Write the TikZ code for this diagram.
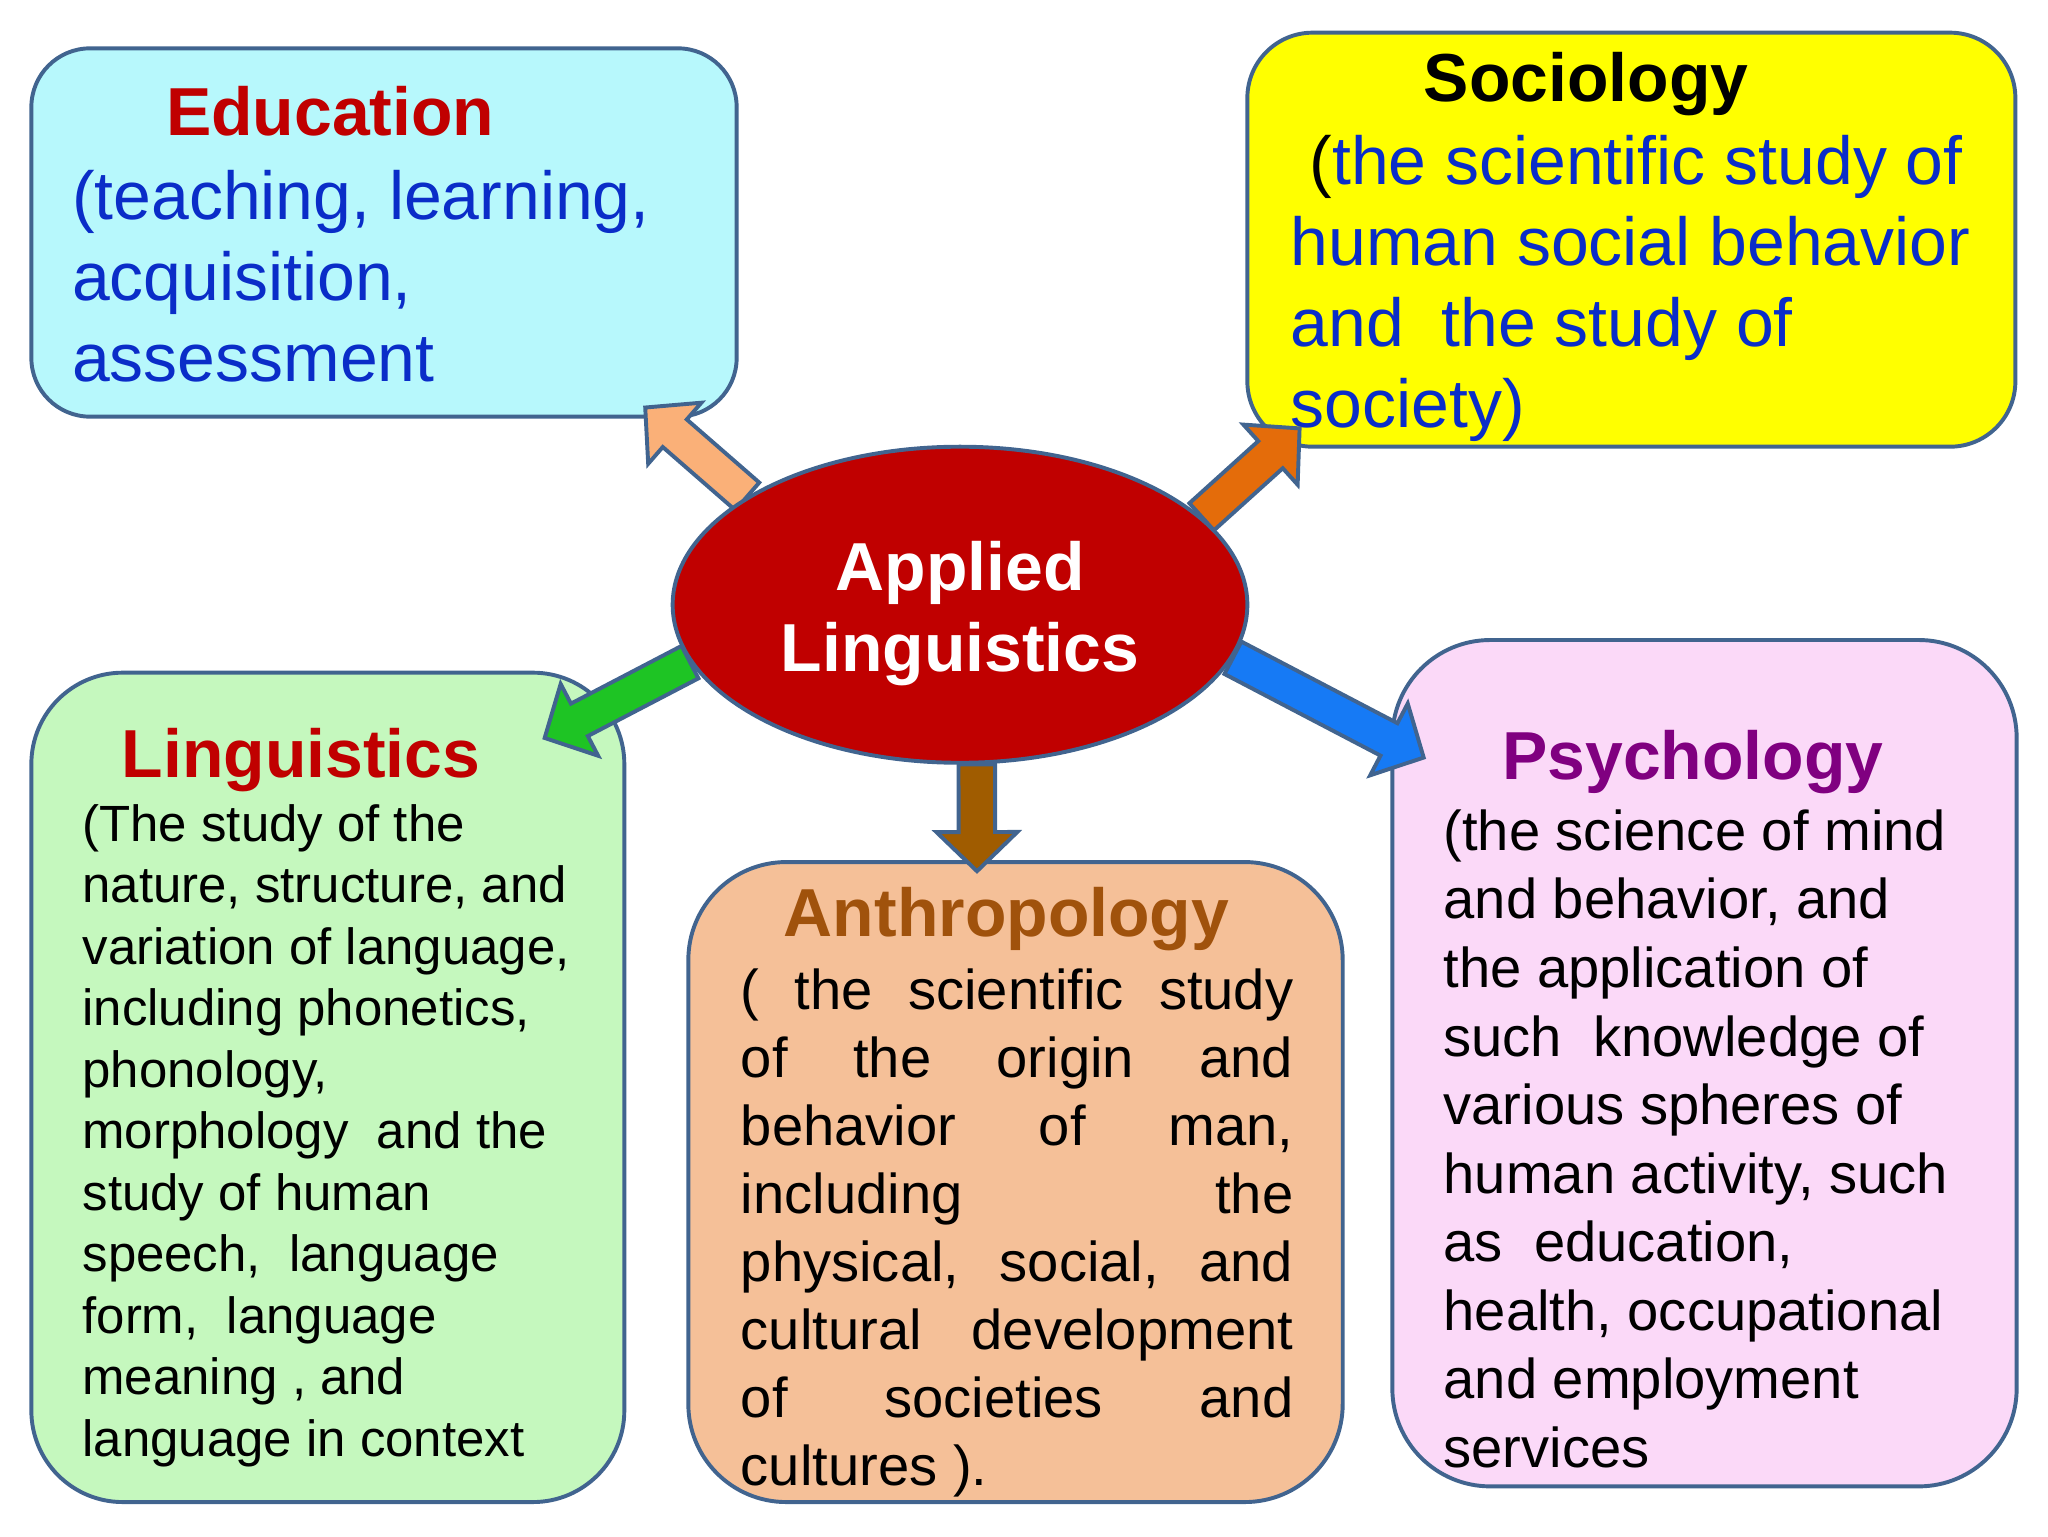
\documentclass[tikz,border=0pt]{standalone}
\usepackage{fontspec}
\setmainfont{Liberation Sans}
\usepackage{xcolor}
\definecolor{EdgeBlue}{RGB}{65,100,143}
\definecolor{CoreRed}{RGB}{192,0,0}
\definecolor{TitleRed}{RGB}{192,0,0}
\definecolor{TitleBrown}{RGB}{160,82,12}
\definecolor{TitlePurple}{RGB}{128,0,128}
\definecolor{TextBlue}{RGB}{10,45,200}
\definecolor{EduFill}{RGB}{183,248,252}
\definecolor{SocFill}{RGB}{255,255,0}
\definecolor{LingFill}{RGB}{197,248,190}
\definecolor{AnthroFill}{RGB}{245,192,152}
\definecolor{PsychFill}{RGB}{251,217,248}
\definecolor{EduArrow}{RGB}{250,176,120}
\definecolor{SocArrow}{RGB}{228,108,10}
\definecolor{LingArrow}{RGB}{30,196,36}
\definecolor{AnthroArrow}{RGB}{160,92,0}
\definecolor{PsychArrow}{RGB}{22,122,245}
\usepackage{tikz}
\usetikzlibrary{math,calc,shapes.geometric}
\pgfdeclarelayer{back}
\pgfdeclarelayer{mid}
\pgfsetlayers{back,mid,main}
\tikzset{%
  field box/.style={rectangle, draw=EdgeBlue, line width=3pt, inner sep=0pt},
  arrow edge/.style={draw=EdgeBlue, line width=3pt, line join=miter},
  title text/.style={anchor=base west, inner sep=0pt, font=\fontsize{52}{62}\selectfont\bfseries},
  body text/.style={anchor=base west, inner sep=0pt, align=left,
    execute at begin node={\spaceskip=0pt\xspaceskip=0pt\relax}}
}
\newcommand*{\Spread}[1]{\makebox[423pt][s]{\spaceskip=0pt\xspaceskip=0pt\relax#1}}
\newcommand*{\BlockArrow}[3]{%
  \coordinate (neck) at ($(#3)!\headlen pt!(#2)$);
  \draw[arrow edge, fill=#1]
    ($(#2)!\shaft pt!90:(#3)$) -- ($(neck)!\shaft pt!90:(#3)$)
    -- ($(neck)!\barb pt!90:(#3)$) -- (#3)
    -- ($(neck)!\barb pt!-90:(#3)$) -- ($(neck)!\shaft pt!-90:(#3)$)
    -- ($(#2)!\shaft pt!-90:(#3)$) -- cycle;
}

\begin{document}
\begin{tikzpicture}[x=1pt,y=-1pt]
    \tikzmath{
      \shaft=14; % half width of a shaft
      \barb=31; % half width of a head
      \headlen=30;
    }
    \useasboundingbox (0,0) rectangle (1568,1176);
    % Centre:
    \node (core) [ellipse, draw=EdgeBlue, line width=3pt, fill=CoreRed,
      minimum width=440pt, minimum height=242pt, inner sep=0pt] at (735,463) {};
    \node (coreText) [text=white, align=center, inner sep=0pt,
      font=\fontsize{52}{62}\selectfont\bfseries] at (735,470) {Applied\\Linguistics};
    \begin{pgfonlayer}{back}
      % Education:
      \node (edu) [field box, fill=EduFill, rounded corners=45pt,
        minimum width=540pt, minimum height=282pt] at (294,178) {};
      \node (eduTitle) [title text, text=TitleRed] at (127,104) {Education};
      \node (eduBody) [body text, text width=500pt, text=TextBlue,
        font=\fontsize{52}{62}\selectfont] at (55,168)
        {(teaching, learning,\\acquisition,\\assessment};
      % Sociology:
      \node (soc) [field box, fill=SocFill, rounded corners=50pt,
        minimum width=588pt, minimum height=317pt] at (1249,183.5) {};
      \node (socTitle) [title text, text=black] at (1090,78) {Sociology};
      \node (socBody) [body text, text width=560pt, text=TextBlue,
        font=\fontsize{52}{62}\selectfont] at (988,141)
        {\hspace*{.278em}{\color{black}(}the scientific study of\\human social behavior\\and~ the study of\\society)};
      % Linguistics:
      \node (ling) [field box, fill=LingFill, rounded corners=70pt,
        minimum width=454pt, minimum height=635pt] at (251,832.5) {};
      \node (lingTitle) [title text, text=TitleRed] at (93,595) {Linguistics};
      \node (lingBody) [body text, text width=410pt, text=black,
        font=\fontsize{39}{47.1}\selectfont] at (63,644)
        {(The study of the\\nature, structure, and\\variation of language,\\including phonetics,\\phonology,\\
         morphology~ and the\\study of human\\speech,~ language\\form,~ language\\meaning , and\\language in context};
      % Anthropology:
      \node (anthro) [field box, fill=AnthroFill, rounded corners=75pt,
        minimum width=501pt, minimum height=490pt] at (777.5,905) {};
      \node (anthroTitle) [title text, text=TitleBrown] at (600,717) {Anthropology};
      \node (anthroBody) [body text, text width=423pt, text=black,
        font=\fontsize{43}{52.1}\selectfont] at (567,773)
        {\Spread{( the scientific study}\\\Spread{of the origin and}\\\Spread{behavior of man,}\\
         \Spread{including the}\\\Spread{physical, social, and}\\\Spread{cultural development}\\
         \Spread{of societies and}\\cultures ).};
      % Psychology:
      \node (psych) [field box, fill=PsychFill, rounded corners=75pt,
        minimum width=478pt, minimum height=648pt] at (1305,814) {};
      \node (psychTitle) [title text, text=TitlePurple] at (1150,597) {Psychology};
      \node (psychBody) [body text, text width=430pt, text=black,
        font=\fontsize{43}{52.5}\selectfont] at (1105,651)
        {(the science of mind\\and behavior, and\\the application of\\such~ knowledge of\\various spheres of\\
         human activity, such\\as~ education,\\health, occupational\\and employment\\services};
    \end{pgfonlayer}
    % Arrows out of the centre:
    \coordinate (eduTip) at (494,312);
    \coordinate (socTip) at (995,328);
    \coordinate (lingTip) at (417,565);
    \coordinate (anthroTip) at (748,667);
    \coordinate (psychTip) at (1090,580);
    \begin{pgfonlayer}{mid}
      \BlockArrow{EduArrow}{core.153}{eduTip}
      \BlockArrow{SocArrow}{core.20}{socTip}
      \BlockArrow{LingArrow}{core.192}{lingTip}
      \BlockArrow{AnthroArrow}{core.-84}{anthroTip}
      \BlockArrow{PsychArrow}{core.-11}{psychTip}
    \end{pgfonlayer}
\end{tikzpicture}
\end{document}
